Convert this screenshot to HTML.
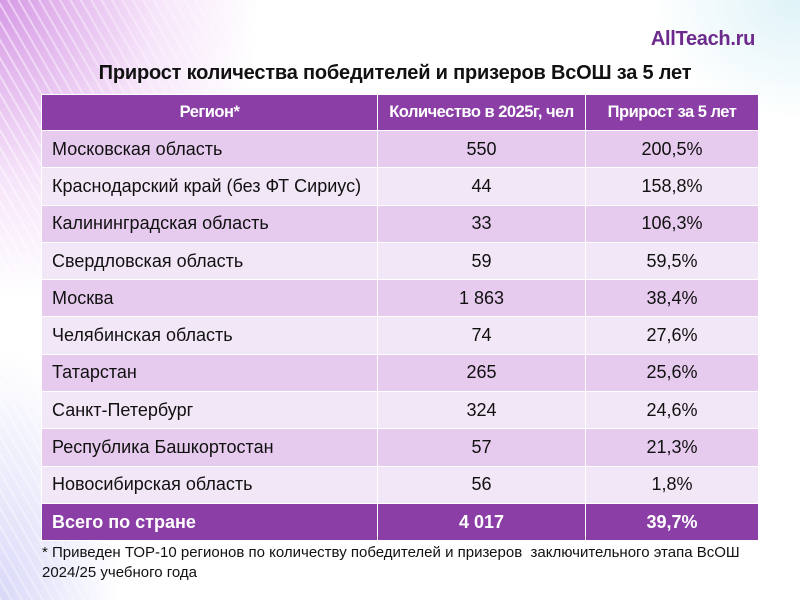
<!DOCTYPE html>
<html><head><meta charset="utf-8"><style>
body{margin:0;width:800px;height:600px;overflow:hidden;position:relative;background:#fff;font-family:"Liberation Sans",sans-serif;}
.bg{position:absolute;left:0;top:0;width:800px;height:600px;
background:
radial-gradient(ellipse 260px 300px at 0px 0px, rgba(200,120,220,0.75), rgba(230,180,240,0.35) 60%, rgba(255,255,255,0) 100%),
radial-gradient(ellipse 120px 250px at 0px 600px, rgba(170,170,240,0.45), rgba(255,255,255,0) 100%),
radial-gradient(ellipse 150px 120px at 800px 0px, rgba(190,230,240,0.5), rgba(255,255,255,0) 100%);}
.stripes{position:absolute;left:0;top:0;width:300px;height:600px;
background:repeating-linear-gradient(60deg, rgba(255,255,255,0.5) 0 2px, rgba(255,255,255,0) 2px 9px);
-webkit-mask-image:linear-gradient(100deg,#000 0%,rgba(0,0,0,0) 100%);}
.logo{position:absolute;right:45px;top:28px;font-weight:bold;font-size:20px;color:#6b2a8c;letter-spacing:-0.3px;}
.title{position:absolute;left:0;width:790px;top:62px;text-align:center;font-weight:bold;font-size:20px;color:#111;letter-spacing:-0.2px;}
table{position:absolute;left:41px;top:94px;width:717px;border-collapse:collapse;table-layout:fixed;font-size:18px;color:#111;}
td{height:37.3px;padding:0 10px;border:1px solid #fff;box-sizing:border-box;white-space:nowrap;overflow:hidden;}
td:nth-child(2),td:nth-child(3){text-align:center;}
tr.h td{background:#8a3ea6;color:#fff;font-weight:bold;height:36px;text-align:center;font-size:16.5px;letter-spacing:-0.5px;padding:0 2px;}
tr.a td{background:#e6cbee;}
tr.b td{background:#f2e7f6;}
tr.t td{background:#8a3ea6;color:#fff;font-weight:bold;}
.note{position:absolute;left:42px;top:543px;font-size:15px;line-height:20px;color:#111;letter-spacing:0px;}
</style></head><body>
<div class="bg"></div><div class="stripes"></div>
<div class="logo">AllTeach.ru</div>
<div class="title">Прирост количества победителей и призеров ВсОШ за 5 лет</div>
<table>
<colgroup><col style="width:336px"><col style="width:208px"><col style="width:173px"></colgroup>
<tr class="h"><td>Регион*</td><td>Количество в 2025г, чел</td><td>Прирост за 5 лет</td></tr>
<tr class="a"><td>Московская область</td><td>550</td><td>200,5%</td></tr>
<tr class="b"><td>Краснодарский край (без ФТ Сириус)</td><td>44</td><td>158,8%</td></tr>
<tr class="a"><td>Калининградская область</td><td>33</td><td>106,3%</td></tr>
<tr class="b"><td>Свердловская область</td><td>59</td><td>59,5%</td></tr>
<tr class="a"><td>Москва</td><td>1 863</td><td>38,4%</td></tr>
<tr class="b"><td>Челябинская область</td><td>74</td><td>27,6%</td></tr>
<tr class="a"><td>Татарстан</td><td>265</td><td>25,6%</td></tr>
<tr class="b"><td>Санкт-Петербург</td><td>324</td><td>24,6%</td></tr>
<tr class="a"><td>Республика Башкортостан</td><td>57</td><td>21,3%</td></tr>
<tr class="b"><td>Новосибирская область</td><td>56</td><td>1,8%</td></tr>
<tr class="t"><td>Всего по стране</td><td>4 017</td><td>39,7%</td></tr>
</table>
<div class="note">* Приведен ТОР-10 регионов по количеству победителей и призеров&nbsp; заключительного этапа ВсОШ<br>2024/25 учебного года</div>
</body></html>
